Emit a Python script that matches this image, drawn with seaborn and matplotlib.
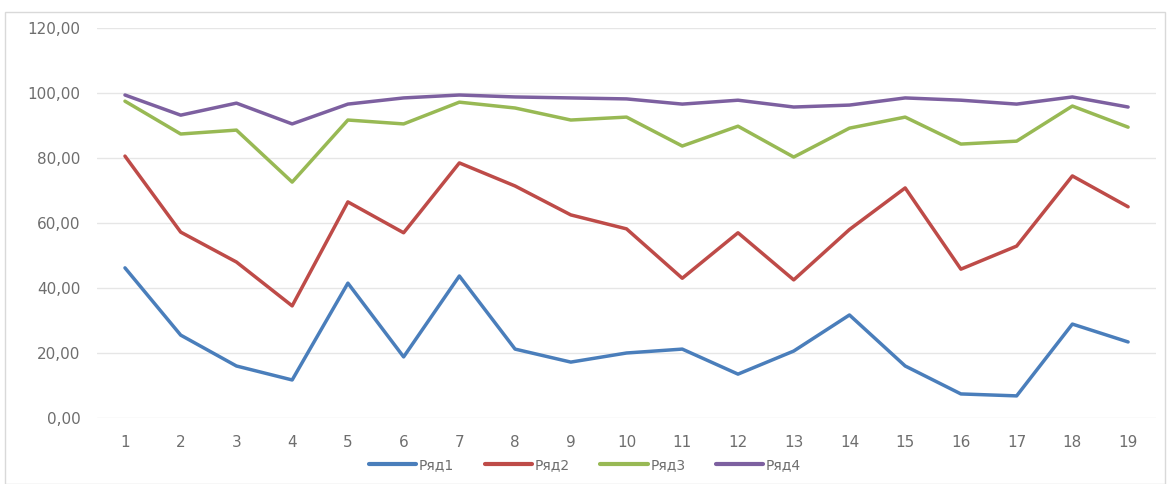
"""Линейный график: четыре ряда по 19 точкам (стиль Excel)."""

import matplotlib

matplotlib.use("Agg")
import matplotlib.pyplot as plt
import matplotlib.ticker as mticker
import pandas as pd
import seaborn as sns
from matplotlib.patches import Rectangle

sns.set_theme(style="white")
plt.rcParams["font.family"] = ["DejaVu Sans"]

points = list(range(1, 20))

ryad1 = [46.2, 25.5, 16.0, 11.7, 41.5, 18.8, 43.7, 21.2, 17.2, 20.0,
         21.2, 13.5, 20.6, 31.7, 16.0, 7.4, 6.8, 28.9, 23.4]
ryad2 = [80.6, 57.2, 48.0, 34.5, 66.5, 57.0, 78.5, 71.4, 62.5, 58.2,
         43.0, 57.0, 42.5, 58.0, 70.8, 45.8, 52.9, 74.5, 65.0]
ryad3 = [97.5, 87.4, 88.6, 72.6, 91.7, 90.5, 97.2, 95.4, 91.7, 92.6,
         83.7, 89.8, 80.3, 89.2, 92.6, 84.3, 85.2, 96.0, 89.5]
ryad4 = [99.4, 93.2, 96.9, 90.5, 96.6, 98.5, 99.4, 98.8, 98.5, 98.2,
         96.6, 97.8, 95.7, 96.3, 98.5, 97.8, 96.6, 98.8, 95.7]

series_names = ["Ряд1", "Ряд2", "Ряд3", "Ряд4"]
palette = {
    "Ряд1": "#4A7EBB",
    "Ряд2": "#BE4B48",
    "Ряд3": "#98B954",
    "Ряд4": "#7D60A0",
}

df = pd.DataFrame({
    "x": points * 4,
    "value": ryad1 + ryad2 + ryad3 + ryad4,
    "series": [n for n in series_names for _ in points],
})

fig = plt.figure(figsize=(11.7, 4.84), dpi=100)
ax = fig.add_axes([0.083, 0.1364, 0.905, 0.8056])

sns.lineplot(
    data=df,
    x="x",
    y="value",
    hue="series",
    hue_order=series_names,
    palette=palette,
    linewidth=2.5,
    ax=ax,
    legend=False,
)

ax.set_xlim(0.5, 19.5)
ax.set_ylim(0, 120)
ax.set_xticks(points)
ax.set_xticklabels([str(p) for p in points])
ax.set_yticks(range(0, 121, 20))
ax.yaxis.set_major_formatter(
    mticker.FuncFormatter(lambda v, _: f"{v:.2f}".replace(".", ","))
)
ax.grid(axis="y", color="#E6E6E6", linewidth=1)
ax.set_axisbelow(True)
for side in ["top", "right", "left", "bottom"]:
    ax.spines[side].set_visible(False)
ax.tick_params(axis="both", length=0, labelsize=11, colors="#6E6E6E")
ax.tick_params(axis="x", pad=12)
ax.tick_params(axis="y", pad=12)
ax.set_xlabel("")
ax.set_ylabel("")

handles = [
    plt.Line2D([], [], color=palette[n], linewidth=3) for n in series_names
]
fig.legend(
    handles,
    series_names,
    loc="center",
    bbox_to_anchor=(0.5, 0.04),
    ncol=4,
    frameon=False,
    fontsize=10,
    labelcolor="#6E6E6E",
    handlelength=3.4,
    handletextpad=0.2,
    columnspacing=2.2,
)

fig.patches.append(
    Rectangle(
        (5 / 1170, 0.0), 1 - 10 / 1170, 1 - 12 / 484,
        transform=fig.transFigure, fill=False, edgecolor="#D9D9D9",
        linewidth=1,
    )
)

fig.savefig("out.png", dpi=100)
